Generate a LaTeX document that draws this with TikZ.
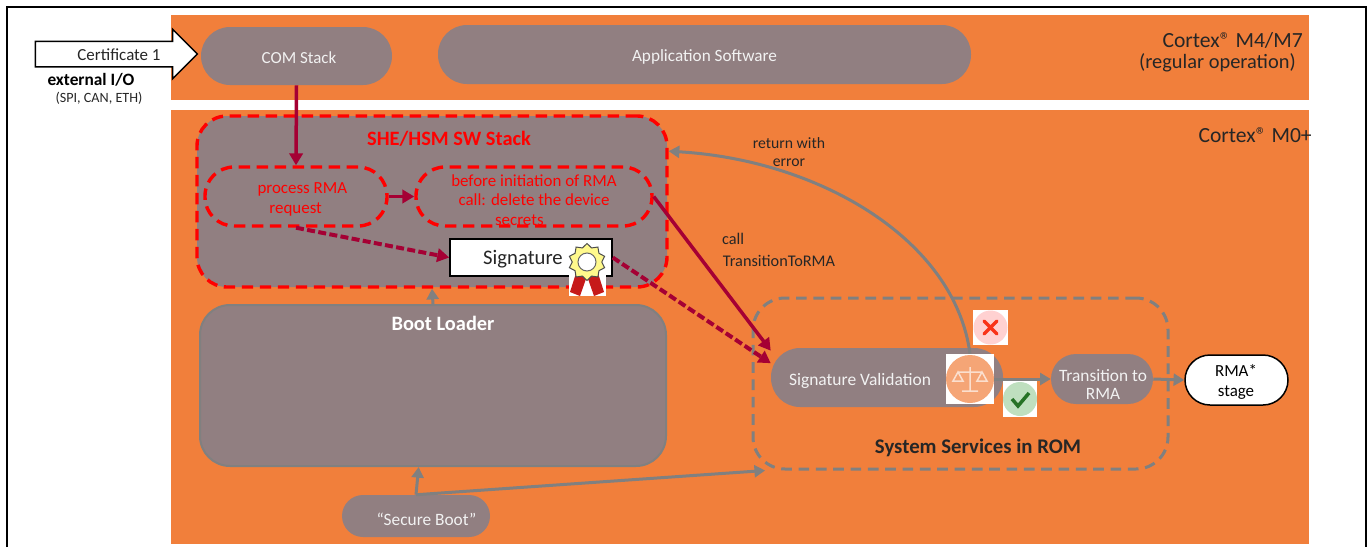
\documentclass[tikz,border=0pt]{standalone}
\usepackage{fontspec}
\setmainfont{Carlito}
\usepackage{tikz}
\usetikzlibrary{arrows.meta,shapes.arrows,shapes.geometric}
\def\px{0.75pt}
\definecolor{cpu}{HTML}{F17F3B}
\definecolor{blk}{HTML}{917F81}
\definecolor{line}{HTML}{808080}
\definecolor{dred}{HTML}{A50034}
\definecolor{txt}{HTML}{F2F2F2}
\tikzset{
    pill/.style={draw=none,fill=blk,text=txt,inner sep=0pt,align=center,rounded corners=#1},
    redbox/.style={draw=red,line width=3.4*\px,dash pattern=on 8.5pt off 5pt,inner sep=0pt,align=center,text=red,rounded corners=#1},
    lbl/.style={inner sep=0pt,align=center,text=black!85},
    redline/.style={draw=dred,line width=3.5*\px,-{Triangle[length=9pt,width=10pt]}},
    redshort/.style={redline,line width=4*\px,dash pattern=on 6pt off 2.5pt},
    grayline/.style={draw=line,line width=3*\px,-{Triangle[length=8pt,width=9pt,open,fill=line]}},
    badge/.style={fill=white,draw=none,inner sep=0pt}
}
\begin{document}
\begin{tikzpicture}[x=\px,y=-\px]
    \useasboundingbox (0,0) rectangle (1368,547);
    \draw [black,line width=2*\px] (7,547) -- (7,7) -- (1366,7) -- (1366,547);
    \fill [cpu] (171,15) rectangle (1309,100);
    \fill [cpu] (171,110) rectangle (1309,544);

    % upper core
    \node [pill=29*\px,minimum width=191*\px,minimum height=58*\px] (com) at (296.5,56) {};
    \node [text=txt,font=\fontsize{12.7pt}{14pt}\selectfont] at (299,58) {COM Stack};
    \node [pill=29*\px,minimum width=533*\px,minimum height=59*\px] (app) at (704.5,54.5) {};
    \node [text=txt,font=\fontsize{12.9pt}{14pt}\selectfont] at (704.5,57) {Application Software};
    \node [lbl,anchor=east,font=\fontsize{16.2pt}{18pt}\selectfont] (m4) at (1303,40) {Cortex® M4/M7};
    \node [lbl,anchor=east,font=\fontsize{15.3pt}{17pt}\selectfont] (reg) at (1296,63) {(regular operation)};
    \node [lbl,anchor=east,font=\fontsize{16.2pt}{18pt}\selectfont] (m0) at (1312,135) {Cortex® M0+};

    % external input
    \node [draw=black,fill=white,line width=1.5*\px,single arrow,single arrow head extend=12*\px,single arrow head indent=0pt,
        minimum height=162*\px,inner sep=0pt] (cert) at (110,54) {\rule[-9pt]{0pt}{18pt}};
    \node [lbl,font=\fontsize{12.7pt}{14pt}\selectfont] at (119,54.5) {Certificate 1};
    \node [lbl,text=black,font=\bfseries\fontsize{13pt}{15pt}\selectfont] (ext) at (91,80) {external I/O};
    \node [lbl,font=\fontsize{10.6pt}{12pt}\selectfont] (bus) at (99,98) {(SPI, CAN, ETH)};

    % lower core
    \node [redbox=30*\px,fill=blk,minimum width=470*\px,minimum height=171*\px] (she) at (432,201.5) {};
    \node [lbl,text=red,font=\bfseries\fontsize{15.3pt}{17pt}\selectfont] (shet) at (449,139) {SHE/HSM SW Stack};
    \node [redbox=29*\px,minimum width=182*\px,minimum height=59*\px] (proc) at (296,196.5) {};
    \node [lbl,text=red,font=\fontsize{12.7pt}{15pt}\selectfont] at (299,199) {\hspace*{5pt}process RMA\\request\hspace*{5pt}};
    \node [redbox=29*\px,minimum width=236*\px,minimum height=59*\px] (del) at (534,196.5) {};
    \node [lbl,text=red,font=\fontsize{12.7pt}{14.8pt}\selectfont] at (534,200) {before initiation of RMA\\call: delete the device\\secrets\hspace*{22pt}};
    \node [draw=black,fill=white,line width=1.5*\px,minimum width=162*\px,minimum height=37*\px,inner sep=0pt] (sig) at (531,257.5) {};
    \node [lbl,font=\fontsize{15.5pt}{17pt}\selectfont] at (523,259.5) {Signature};

    \node [pill=30*\px,fill=blk,draw=line,line width=2*\px,minimum width=466*\px,minimum height=161*\px] (boot) at (433,385.5) {};
    \node [lbl,text=white,font=\bfseries\fontsize{15.3pt}{17pt}\selectfont] (boott) at (443,323) {Boot Loader};
    \node [pill=21*\px,minimum width=148*\px,minimum height=42*\px] (sec) at (416,516) {};
    \node [text=txt,font=\fontsize{13pt}{14pt}\selectfont] at (426.5,519) {“Secure Boot”};

    % ROM part
    \node [draw=line,line width=3*\px,dash pattern=on 8pt off 5pt,rounded corners=32*\px,minimum width=415*\px,minimum height=171*\px,inner sep=0pt] (rom) at (960.5,383.5) {};
    \node [lbl,font=\bfseries\fontsize{15.6pt}{17pt}\selectfont] (romt) at (978,448) {System Services in ROM};
    \node [pill=29*\px,minimum width=232*\px,minimum height=59*\px] (valid) at (887,377.5) {};
    \node [text=txt,font=\fontsize{13.1pt}{14pt}\selectfont] at (860,381) {Signature Validation};
    \node [pill=25*\px,minimum width=102*\px,minimum height=50*\px] (trans) at (1102,379) {};
    \node [text=txt,align=center,inner sep=0pt,font=\fontsize{13pt}{13.5pt}\selectfont] at (1103,385) {Transition to\\RMA};
    \node [draw=black,fill=white,line width=1.5*\px,rounded corners=25*\px,minimum width=103*\px,minimum height=50*\px,inner sep=0pt] (rma) at (1236.5,380) {};
    \node [lbl,text=black,font=\fontsize{12.7pt}{15pt}\selectfont] at (1236,382) {RMA*\\stage};

    % badges
    \node [badge,minimum width=48*\px,minimum height=50*\px] (scale) at (970,379) {};
    \fill [cpu!70!white] (scale) circle (24*\px);
    \draw [white!75!cpu,line width=1.5*\px] (970,367) -- (970,391) (962,391) -- (978,391) (958,372) -- (982,372)
        (953,381) -- (958,372) -- (963,381) -- cycle (977,381) -- (982,372) -- (987,381) -- cycle;
    \node [badge,minimum width=35*\px,minimum height=35*\px] (no) at (990.5,327.5) {};
    \fill [red!18] (no) circle (17*\px);
    \draw [red!60!cpu,line width=3.5*\px,line cap=round] (984,321) -- (997,334) (997,321) -- (984,334);
    \node [badge,minimum width=34*\px,minimum height=36*\px] (yes) at (1020,399) {};
    \fill [green!50!black!25] (yes) circle (17*\px);
    \draw [green!35!black!85,line width=3.5*\px] (1012,399) -- (1018,406) -- (1029,393);

    % arrows
    \draw [redline] (com.south) -- (proc.north);
    \draw [redline] (proc.east) -- (del.west);
    \draw [redshort] (proc.south) -- (sig.west);
    \draw [redline] (del.east) -- (valid.167);
    \draw [redshort] (sig.east) -- (valid.173);
    \draw [grayline] (boot.north) -- (she.south);
    \draw [grayline] (sec.north) -- (boot.260);
    \draw [grayline] (sec.north) -- (rom.204);
    \draw [grayline] (scale.east) -- (trans.west);
    \draw [grayline] (trans.east) -- (rma.west);
    \draw [grayline] (scale.north) .. controls (955,240) and (820,160) .. (she.12.5);

    % rosette on top of the arrow end
    \node [badge,minimum width=37*\px,minimum height=51*\px] (seal) at (587.5,270.5) {};
    \fill [red!75!black!90] (577,270) -- (587,276) -- (580,296) -- (570,292) -- cycle (597,270) -- (587,276) -- (594,296) -- (604,292) -- cycle;
    \node [star,star points=10,star point ratio=1.25,fill=yellow!45!white,draw=black!70,line width=1*\px,minimum size=37*\px,inner sep=0pt] (gear) at (587,262) {};
    \fill [white,draw=black!60,line width=1*\px] (gear) circle (9*\px);

    \node [lbl,font=\fontsize{11.8pt}{14pt}\selectfont] (ret) at (789,152) {return with\\error};
    \node [lbl,font=\fontsize{12.2pt}{14pt}\selectfont] (call) at (733,239) {call};
    \node [lbl,font=\fontsize{12.2pt}{14pt}\selectfont] (tname) at (779,261) {TransitionToRMA};
\end{tikzpicture}
\end{document}
